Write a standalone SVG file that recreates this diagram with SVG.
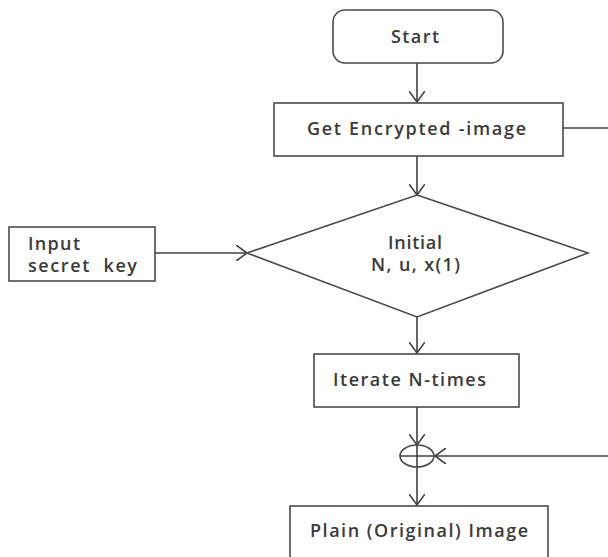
<svg xmlns="http://www.w3.org/2000/svg" width="608" height="557" viewBox="0 0 608 557">
<defs>
<style>
.box{fill:#fff;stroke:#4a4a4a;stroke-width:1.6}
.ln{fill:none;stroke:#404040;stroke-width:1.6}
.t{font-family:"Open Sans","Liberation Sans",sans-serif;font-size:18px;font-weight:600;fill:#3a3a3a;white-space:pre}
</style>
<marker id="arr" viewBox="0 0 12 16" refX="11" refY="8" markerWidth="12" markerHeight="16" markerUnits="userSpaceOnUse" orient="auto">
<path d="M0,0 L11,8 L0,16" fill="none" stroke="#404040" stroke-width="1.6"/>
</marker>
</defs>
<rect width="608" height="557" fill="#fff"/>
<g id="connectors">
<line class="ln" x1="417" y1="63" x2="417" y2="102" marker-end="url(#arr)"/>
<line class="ln" x1="417" y1="156" x2="417" y2="195" marker-end="url(#arr)"/>
<line class="ln" x1="155" y1="253" x2="247" y2="253" marker-end="url(#arr)"/>
<line class="ln" x1="417" y1="317" x2="417" y2="353" marker-end="url(#arr)"/>
<line class="ln" x1="417" y1="407" x2="417" y2="445" marker-end="url(#arr)"/>
<line class="ln" x1="417" y1="467" x2="417" y2="505" marker-end="url(#arr)"/>
<line class="ln" x1="563" y1="128" x2="608" y2="128"/>
<line class="ln" x1="608" y1="456" x2="435" y2="456" marker-end="url(#arr)"/>
</g>
<g id="start">
<rect class="box" x="333" y="10" width="170" height="53" rx="12"/>
<text class="t" x="391" y="43" textLength="48" lengthAdjust="spacing">Start</text>
</g>
<g id="get-encrypted">
<rect class="box" x="274" y="103" width="289" height="53"/>
<text class="t" x="307" y="135" textLength="219" lengthAdjust="spacing">Get Encrypted -image</text>
</g>
<g id="input-key">
<rect class="box" x="9" y="227" width="146" height="54"/>
<text class="t" x="28" y="250" textLength="52" lengthAdjust="spacing">Input</text>
<text class="t" x="28" y="272" textLength="109" lengthAdjust="spacing" xml:space="preserve">secret  key</text>
</g>
<g id="initial">
<polygon class="box" points="417,195 588,253 417,317 247,253"/>
<text class="t" x="388" y="249" textLength="54" lengthAdjust="spacing">Initial</text>
<text class="t" x="371" y="271" textLength="89" lengthAdjust="spacing">N, u, x(1)</text>
</g>
<g id="iterate">
<rect class="box" x="314" y="354" width="205" height="53"/>
<text class="t" x="333" y="386" textLength="153" lengthAdjust="spacing">Iterate N-times</text>
</g>
<g id="xor">
<ellipse class="box" cx="417" cy="456" rx="17" ry="11"/>
<line class="ln" x1="400" y1="456" x2="434" y2="456"/>
<line class="ln" x1="417" y1="445" x2="417" y2="467"/>
</g>
<g id="plain">
<rect class="box" x="290" y="506" width="258" height="60"/>
<text class="t" x="310" y="537" textLength="218" lengthAdjust="spacing">Plain (Original) Image</text>
</g>
</svg>
